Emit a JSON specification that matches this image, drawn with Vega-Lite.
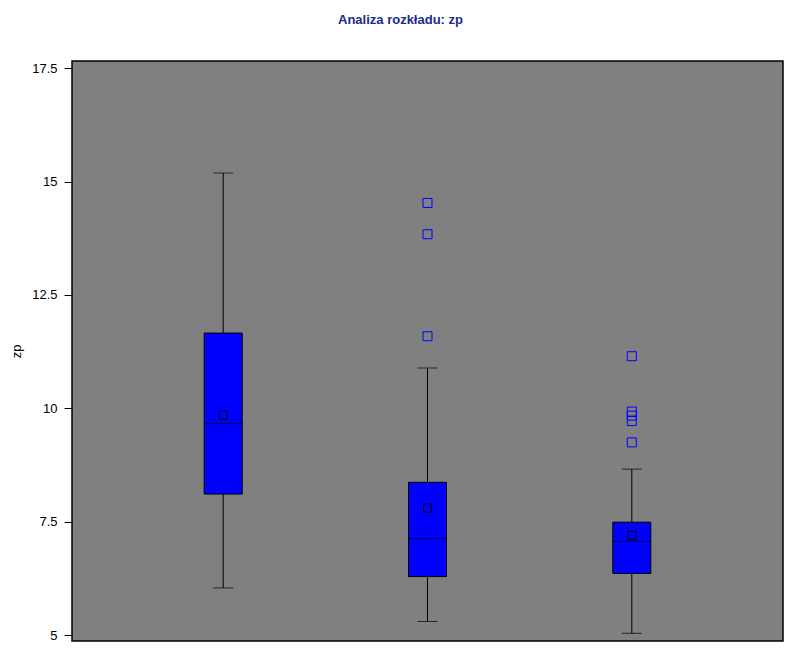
{
  "$schema": "https://vega.github.io/schema/vega-lite/v6.json",
  "autosize": {"type": "none"},
  "padding": {"left": 72, "top": 61, "right": 7, "bottom": 9},
  "width": 711,
  "height": 580,
  "background": "#ffffff",
  "title": {
    "text": "Analiza rozkładu: zp",
    "font": "Liberation Sans",
    "fontSize": 13,
    "fontWeight": "bold",
    "color": "#1a2b8c",
    "anchor": "middle",
    "dx": -27,
    "offset": 34
  },
  "config": {
    "view": {"fill": "#808080", "stroke": "#000000", "strokeWidth": 1.5},
    "axis": {
      "labelFont": "Liberation Sans",
      "labelFontSize": 13,
      "labelColor": "#000000",
      "titleFont": "Liberation Sans",
      "titleFontSize": 13,
      "titleFontWeight": "normal",
      "titleColor": "#000000",
      "tickColor": "#000000",
      "grid": false
    }
  },
  "datasets": {
    "boxes": [
      {"group": "A", "lower": 6.04, "q1": 8.11, "median": 9.67, "q3": 11.66, "upper": 15.19, "mean": 9.85},
      {"group": "B", "lower": 5.30, "q1": 6.29, "median": 7.13, "q3": 8.37, "upper": 10.89, "mean": 7.80},
      {"group": "C", "lower": 5.04, "q1": 6.36, "median": 7.07, "q3": 7.49, "upper": 8.66, "mean": 7.20}
    ],
    "outliers": [
      {"group": "B", "value": 14.53},
      {"group": "B", "value": 13.84},
      {"group": "B", "value": 11.59},
      {"group": "C", "value": 11.15},
      {"group": "C", "value": 9.93},
      {"group": "C", "value": 9.84},
      {"group": "C", "value": 9.72},
      {"group": "C", "value": 9.25}
    ]
  },
  "encoding": {
    "x": {
      "field": "group",
      "type": "nominal",
      "scale": {"type": "point", "padding": 0.74, "domain": ["A", "B", "C"]},
      "axis": null
    }
  },
  "layer": [
    {
      "data": {"name": "boxes"},
      "mark": {"type": "rule", "color": "#000000", "strokeWidth": 1},
      "encoding": {
        "y": {
          "field": "lower",
          "type": "quantitative",
          "scale": {"domain": [4.87, 17.66], "nice": false, "zero": false},
          "axis": {
            "title": "zp",
            "values": [5, 7.5, 10, 12.5, 15, 17.5],
            "labelExpr": "'' + datum.value",
            "domain": false,
            "tickSize": 8,
            "labelPadding": 7,
            "titlePadding": 8
          }
        },
        "y2": {"field": "q1"}
      }
    },
    {
      "data": {"name": "boxes"},
      "mark": {"type": "rule", "color": "#000000", "strokeWidth": 1},
      "encoding": {
        "y": {"field": "q3", "type": "quantitative"},
        "y2": {"field": "upper"}
      }
    },
    {
      "data": {"name": "boxes"},
      "mark": {"type": "tick", "color": "#000000", "size": 20, "thickness": 1},
      "encoding": {"y": {"field": "upper", "type": "quantitative"}}
    },
    {
      "data": {"name": "boxes"},
      "mark": {"type": "tick", "color": "#000000", "size": 20, "thickness": 1},
      "encoding": {"y": {"field": "lower", "type": "quantitative"}}
    },
    {
      "data": {"name": "boxes"},
      "mark": {"type": "bar", "size": 38, "fill": "#0000ff", "stroke": "#000000", "strokeWidth": 1},
      "encoding": {
        "y": {"field": "q1", "type": "quantitative"},
        "y2": {"field": "q3"}
      }
    },
    {
      "data": {"name": "boxes"},
      "mark": {"type": "tick", "color": "#000000", "size": 38, "thickness": 1},
      "encoding": {"y": {"field": "median", "type": "quantitative"}}
    },
    {
      "data": {"name": "boxes"},
      "mark": {"type": "point", "shape": "square", "size": 64, "filled": false, "stroke": "#000000", "strokeWidth": 1, "opacity": 1},
      "encoding": {"y": {"field": "mean", "type": "quantitative"}}
    },
    {
      "data": {"name": "outliers"},
      "mark": {"type": "point", "shape": "square", "size": 81, "filled": false, "stroke": "#0000ff", "strokeWidth": 1, "opacity": 1},
      "encoding": {"y": {"field": "value", "type": "quantitative"}}
    }
  ]
}
